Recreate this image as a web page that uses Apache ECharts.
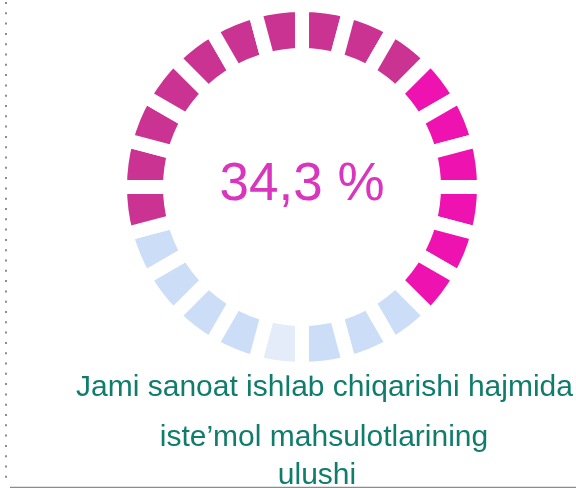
<!DOCTYPE html>
<html>
<head>
<meta charset="utf-8">
<script src="https://cdn.jsdelivr.net/npm/echarts@6/dist/echarts.min.js"></script>
<style>
html,body{margin:0;padding:0;background:#fff;}
#chart{width:576px;height:488px;}
</style>
</head>
<body>
<div id="chart"></div>
<script>
// 24 equal ring segments, clockwise from the top
const segmentValues = [1,1,1,1,1,1,1,1,1,1,1,1,1,1,1,1,1,1,1,1,1,1,1,1];
const segmentGroups = ['dark','dark','dark','bright','bright','bright','bright','bright','bright',
  'light','light','light','pale','light','light','light','light',
  'dark','dark','dark','dark','dark','dark','dark'];
const centerLabel = '34,3 %';
const titleLines = ['Jami sanoat ishlab chiqarishi hajmida', 'iste\u2019mol mahsulotlarining', 'ulushi'];

const groupColors = {dark:'#CB3393', bright:'#EE12B0', light:'#CCDDF7', pale:'#E4ECF9'};

const chart = echarts.init(document.getElementById('chart'), null, {renderer:'canvas'});
const textFont = '"Liberation Sans", Arial, sans-serif';
chart.setOption({
  animation:false,
  backgroundColor:'#ffffff',
  series:[{
    type:'pie',
    center:[302,187],
    radius:[132,182],
    startAngle:90,
    clockwise:true,
    silent:true,
    label:{show:false},
    labelLine:{show:false},
    emphasis:{disabled:true},
    itemStyle:{borderColor:'#ffffff', borderWidth:14},
    data: segmentValues.map((v,i)=>({value:v, name:'s'+(i+1), itemStyle:{color:groupColors[segmentGroups[i]]}}))
  }],
  graphic:[
    {type:'line', shape:{x1:6,y1:2,x2:6,y2:486}, style:{stroke:'#8c8c8c', lineWidth:2, lineDash:[2,8.3]}, silent:true},
    {type:'line', shape:{x1:10,y1:487.5,x2:576,y2:487.5}, style:{stroke:'#8c8c8c', lineWidth:1.5}, silent:true},
    {type:'text', x:302, y:159, style:{text:centerLabel, font:'53px '+textFont, fill:'#D935BE', align:'center', verticalAlign:'top'}, silent:true},
    {type:'text', x:324.5, y:373, style:{text:titleLines[0], font:'30px '+textFont, fill:'#0F7C6C', align:'center', verticalAlign:'top'}, silent:true},
    {type:'text', x:324, y:423, style:{text:titleLines[1], font:'30px '+textFont, fill:'#0F7C6C', align:'center', verticalAlign:'top'}, silent:true},
    {type:'text', x:317, y:461, style:{text:titleLines[2], font:'30px '+textFont, fill:'#0F7C6C', align:'center', verticalAlign:'top'}, silent:true}
  ]
});
</script>
</body>
</html>
